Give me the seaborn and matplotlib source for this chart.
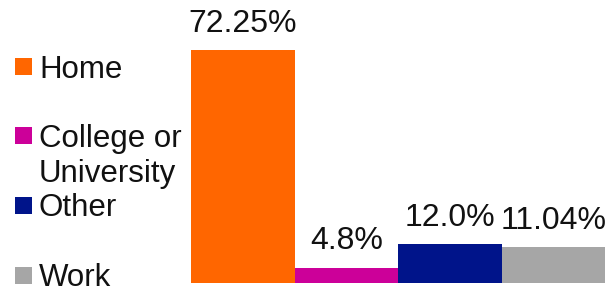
import matplotlib
matplotlib.use("Agg")
import matplotlib.pyplot as plt
import matplotlib.patches as mpatches
import pandas as pd
import seaborn as sns

categories = ["Home", "College or University", "Other", "Work"]
legend_labels = [["Home"], ["College or", "University"], ["Other"], ["Work"]]
values = [72.25, 4.8, 12.0, 11.04]
value_labels = ["72.25%", "4.8%", "12.0%", "11.04%"]
colors = ["#FF6600", "#CC0099", "#00148A", "#A6A6A6"]

W, H = 608, 292
sns.set_theme(style="white")
plt.rcParams["font.family"] = ["Liberation Sans", "DejaVu Sans"]

fig = plt.figure(figsize=(W / 100, H / 100), dpi=100)
ax = fig.add_axes([191 / W, 9 / H, (605 - 191) / W, (H - 9) / H])

df = pd.DataFrame({"cat": categories, "val": values})
sns.barplot(data=df, x="cat", y="val", hue="cat", palette=colors,
            width=1.0, dodge=False, legend=False, saturation=1,
            linewidth=0, ax=ax)

ax.set_xlim(-0.5, 3.5)
ax.set_ylim(0, 283 / 3.22)
ax.axis("off")

for i, (v, lab) in enumerate(zip(values, value_labels)):
    ax.annotate(lab, (i, v), xytext=(0, 13), textcoords="offset points",
                ha="center", va="baseline", fontsize=23, color="#111111")

# legend drawn by hand (square beside first line of each label)
for i, (lines, c) in enumerate(zip(legend_labels, colors)):
    yc = 66.5 + 69.5 * i
    fig.add_artist(mpatches.Rectangle((15 / W, 1 - (yc + 8.5) / H), 17 / W, 17 / H,
                                      transform=fig.transFigure, color=c, lw=0))
    for j, line in enumerate(lines):
        fig.text(39 / W, 1 - (yc + 11 + 35 * j) / H, line, ha="left",
                 va="baseline", fontsize=22.5, color="#111111")

fig.savefig("out.png", dpi=100)
